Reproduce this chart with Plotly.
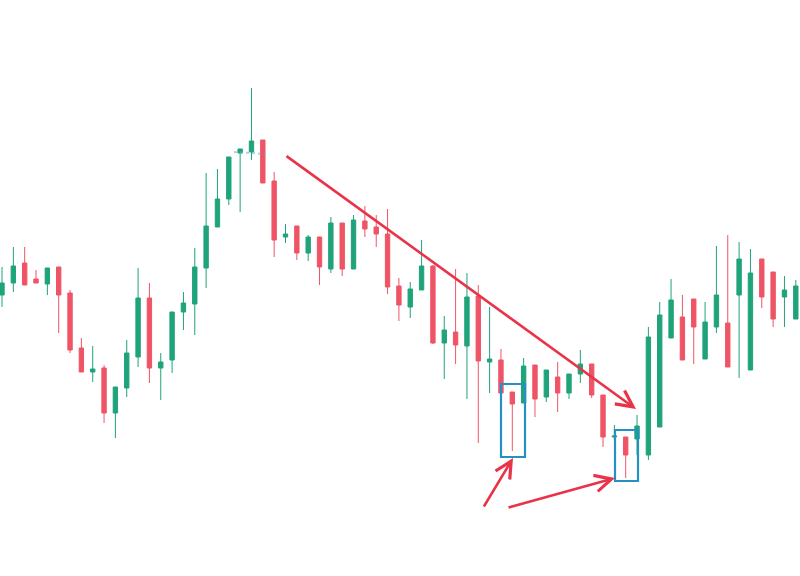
import plotly.graph_objects as go

# Candle index (time steps)
idx = list(range(71))

# OHLC values (price units)
open_ = [305, 317, 337, 321, 316, 333, 307, 252, 228, 232, 187, 212, 243, 302, 232, 240, 288, 296, 332, 373, 401, 447, 448, 460, 419, 363, 374, 347, 363, 331, 377, 331, 379, 373, 366, 314, 293, 310, 334, 257, 268, 254, 304, 238, 240, 208, 197, 235, 203, 223, 207, 226, 236, 205, 163, 163, 161, 145, 173, 262, 283, 301, 241, 273, 277, 305, 230, 341, 328, 303, 281, 308]
close = [317, 334, 315, 317, 332, 305, 250, 228, 231, 187, 213, 247, 302, 232, 238, 288, 297, 333, 374, 401, 443, 451, 459, 417, 360, 366, 347, 363, 333, 377, 331, 380, 371, 366, 313, 295, 311, 334, 257, 270, 255, 303, 239, 241, 207, 196, 234, 201, 230, 207, 226, 236, 205, 163, 164, 145, 174, 263, 285, 300, 240, 273, 278, 305, 233, 341, 327, 303, 281, 310, 314]
high = [333, 353, 353, 330, 332, 333, 310, 262, 254, 235, 213, 260, 332, 317, 247, 288, 308, 352, 427, 431, 443, 451, 512, 460, 428, 376, 374, 365, 363, 383, 377, 385, 394, 385, 391, 322, 318, 360, 335, 284, 331, 327, 315, 293, 251, 208, 242, 235, 230, 238, 226, 250, 236, 205, 175, 161, 185, 273, 298, 321, 305, 276, 298, 354, 365, 358, 351, 332, 303, 324, 320]
low = [293, 308, 315, 317, 305, 267, 247, 228, 218, 177, 162, 203, 233, 217, 200, 227, 270, 265, 312, 373, 395, 388, 440, 417, 343, 357, 340, 339, 315, 327, 324, 331, 363, 353, 306, 279, 282, 310, 256, 221, 236, 201, 157, 207, 207, 149, 197, 183, 198, 188, 201, 217, 202, 153, 160, 122, 145, 140, 258, 275, 240, 236, 265, 267, 233, 222, 291, 292, 273, 273, 287]

GREEN = "#1fa37a"
RED = "#ef5466"

fig = go.Figure(
    go.Candlestick(
        x=idx, open=open_, high=high, low=low, close=close,
        increasing=dict(line=dict(color=GREEN, width=1), fillcolor=GREEN),
        decreasing=dict(line=dict(color=RED, width=1), fillcolor=RED),
        whiskerwidth=0,
        hoverinfo="skip",
    )
)

W, H = 800, 576


def px(x, y):
    return x / W, 1 - y / H


arrow_color = "#e83348"
arrows = [
    ((636, 409), (285, 155)),
    ((513, 458), (483, 508)),
    ((615, 478), (507, 508)),
]
annotations = []
for (tx, ty), (sx, sy) in arrows:
    ax_, ay_ = px(tx, ty)
    annotations.append(dict(
        x=ax_, y=ay_, xref="paper", yref="paper", text="",
        showarrow=True, ax=sx - tx, ay=sy - ty, arrowhead=5,
        arrowsize=1.25, arrowwidth=2.6, arrowcolor=arrow_color, standoff=0,
    ))

shapes = []
for (x0, y0, x1, y1) in [(501, 384, 525, 457), (615, 430, 638, 481)]:
    a0, b0 = px(x0, y0)
    a1, b1 = px(x1, y1)
    shapes.append(dict(type="rect", xref="paper", yref="paper",
                       x0=a0, y0=b1, x1=a1, y1=b0,
                       line=dict(color="#2590c4", width=2.2)))
l0 = px(234, 152)
l1 = px(266, 154)
shapes.append(dict(type="line", xref="paper", yref="paper",
                   x0=l0[0], y0=l0[1], x1=l1[0], y1=l1[1],
                   line=dict(color="rgba(110,170,215,0.55)", width=2, dash="dot")))

fig.update_layout(
    width=W, height=H,
    margin=dict(l=0, r=0, t=0, b=0),
    paper_bgcolor="white", plot_bgcolor="white",
    showlegend=False,
    boxgap=0.45,
    xaxis=dict(visible=False, range=[-0.176, 70.37], rangeslider=dict(visible=False)),
    yaxis=dict(visible=False, range=[24, 600]),
    annotations=annotations,
    shapes=shapes,
)

fig.write_html(
    "out.html",
    config={"displayModeBar": False},
    post_script="document.body.style.margin='0';document.body.style.overflow='hidden';",
)
